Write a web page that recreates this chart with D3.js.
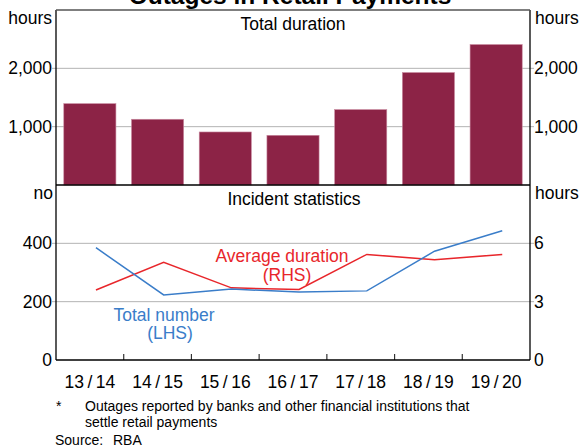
<!DOCTYPE html>
<html>
<head>
<meta charset="utf-8">
<script src="https://cdn.jsdelivr.net/npm/d3@7"></script>
<style>
  body { margin: 0; background: #fff; }
  text { font-family: Arial, "Liberation Sans", sans-serif; fill: #000; }
</style>
</head>
<body>
<div id="chart"></div>
<script>
// Data
const years = ["13/14", "14/15", "15/16", "16/17", "17/18", "18/19", "19/20"];
const totalDuration = [1395, 1127, 909, 852, 1293, 1928, 2408];   // hours
const totalNumber = [385, 223, 243, 233, 237, 373, 443];           // no (LHS)
const avgDuration = [3.60, 5.03, 3.71, 3.63, 5.43, 5.15, 5.43];    // hours (RHS)
const topTicks = [1000, 2000];
const lhsTicks = [0, 200, 400];
const rhsTicks = [0, 3, 6];

const width = 580, height = 448;
const plotLeft = 56, plotRight = 530, plotTop = 10, plotMid = 185, plotBottom = 360;
const barColor = "#8c2346", blue = "#3a7dc9", red = "#e8262b", grid = "#b4b4b4";
const fs = "17.5px";

const svg = d3.select("#chart").append("svg")
  .attr("width", width).attr("height", height);

// Scales
const x = d3.scaleBand().domain(years).range([plotLeft, plotRight]).paddingInner(0).paddingOuter(0);
const xBar = d3.scaleBand().domain(years).range([plotLeft, plotRight]).paddingInner(0.23).paddingOuter(0.115);
// lines sit a little right of the band centre, as in the original
const xLine = d => x(d) + x.bandwidth() * 0.59;
const yTop = d3.scaleLinear().domain([0, 3000]).range([plotMid, plotTop]);
const yL = d3.scaleLinear().domain([0, 600]).range([plotBottom, plotMid]);
const yR = d3.scaleLinear().domain([0, 9]).range([plotBottom, plotMid]);

// Gridlines (extend slightly outside the frame as ticks)
svg.append("g").selectAll("line").data(topTicks).join("line")
  .attr("x1", plotLeft - 4).attr("x2", plotRight + 4)
  .attr("y1", d => yTop(d)).attr("y2", d => yTop(d))
  .attr("stroke", grid).attr("stroke-width", 1);
svg.append("g").selectAll("line").data(lhsTicks.filter(d => d > 0)).join("line")
  .attr("x1", plotLeft - 4).attr("x2", plotRight + 4)
  .attr("y1", d => yL(d)).attr("y2", d => yL(d))
  .attr("stroke", grid).attr("stroke-width", 1);

// Bars
svg.append("g").selectAll("rect").data(totalDuration).join("rect")
  .attr("x", (d, i) => xBar(years[i]))
  .attr("width", xBar.bandwidth())
  .attr("y", d => yTop(d))
  .attr("height", d => plotMid - yTop(d))
  .attr("fill", barColor)
  .attr("stroke", "#c98aa0").attr("stroke-width", 0.6);

// Lines
const lineL = d3.line().x((d, i) => xLine(years[i])).y(d => yL(d));
const lineR = d3.line().x((d, i) => xLine(years[i])).y(d => yR(d));
svg.append("path").datum(avgDuration).attr("d", lineR)
  .attr("fill", "none").attr("stroke", red).attr("stroke-width", 1.5);
svg.append("path").datum(totalNumber).attr("d", lineL)
  .attr("fill", "none").attr("stroke", blue).attr("stroke-width", 1.5);

// X ticks at category boundaries (inside)
svg.append("g").selectAll("line").data(years.slice(1)).join("line")
  .attr("x1", d => x(d)).attr("x2", d => x(d))
  .attr("y1", plotBottom).attr("y2", plotBottom - 6)
  .attr("stroke", "#333").attr("stroke-width", 1.2);

// Frame
const frame = svg.append("g").attr("stroke", "#000").attr("stroke-width", 1.3);
frame.append("line").attr("x1", plotLeft).attr("x2", plotLeft).attr("y1", plotTop).attr("y2", plotBottom);
frame.append("line").attr("x1", plotRight).attr("x2", plotRight).attr("y1", plotTop).attr("y2", plotBottom);
frame.append("line").attr("x1", plotLeft).attr("x2", plotRight).attr("y1", plotTop).attr("y2", plotTop).attr("stroke", "#555");
frame.append("line").attr("x1", plotLeft).attr("x2", plotRight).attr("y1", plotMid).attr("y2", plotMid);
frame.append("line").attr("x1", plotLeft).attr("x2", plotRight).attr("y1", plotBottom).attr("y2", plotBottom);

// Axis labels
const fmt = d3.format(",");
svg.append("g").selectAll("text").data(topTicks).join("text")
  .attr("x", plotLeft - 4).attr("y", d => yTop(d)).attr("dy", "0.35em")
  .attr("text-anchor", "end").style("font-size", fs).text(fmt);
svg.append("g").selectAll("text").data(topTicks).join("text")
  .attr("x", plotRight + 4).attr("y", d => yTop(d)).attr("dy", "0.35em")
  .style("font-size", fs).text(fmt);
svg.append("g").selectAll("text").data(lhsTicks).join("text")
  .attr("x", plotLeft - 4).attr("y", d => yL(d)).attr("dy", "0.35em")
  .attr("text-anchor", "end").style("font-size", fs).text(d => d);
svg.append("g").selectAll("text").data(rhsTicks).join("text")
  .attr("x", plotRight + 4).attr("y", d => yR(d)).attr("dy", "0.35em")
  .style("font-size", fs).text(d => d);

// Units
svg.append("text").attr("x", plotLeft - 4).attr("y", 24).attr("text-anchor", "end").style("font-size", fs).text("hours");
svg.append("text").attr("x", plotRight + 5).attr("y", 24).style("font-size", fs).text("hours");
svg.append("text").attr("x", plotLeft - 3).attr("y", 199).attr("text-anchor", "end").style("font-size", fs).text("no");
svg.append("text").attr("x", plotRight + 5).attr("y", 199).style("font-size", fs).text("hours");

// X labels
svg.append("g").selectAll("text").data(years).join("text")
  .attr("x", d => x(d) + x.bandwidth() / 2).attr("y", 388)
  .attr("text-anchor", "middle").style("font-size", fs)
  .text(d => d.replace("/", "\u2009/\u2009"));

// Titles
svg.append("text").attr("x", 290).attr("y", 4).attr("text-anchor", "middle")
  .style("font-size", "24.5px").style("font-weight", "bold").text("Outages in Retail Payments");
svg.append("text").attr("x", 293).attr("y", 30).attr("text-anchor", "middle").style("font-size", fs).text("Total duration");
svg.append("text").attr("x", 294).attr("y", 205).attr("text-anchor", "middle").style("font-size", fs).text("Incident statistics");

// Series labels
svg.append("text").attr("x", 282).attr("y", 262).attr("text-anchor", "middle").style("font-size", fs).style("fill", red).text("Average duration");
svg.append("text").attr("x", 287).attr("y", 281).attr("text-anchor", "middle").style("font-size", fs).style("fill", red).text("(RHS)");
svg.append("text").attr("x", 164).attr("y", 321).attr("text-anchor", "middle").style("font-size", fs).style("fill", blue).text("Total number");
svg.append("text").attr("x", 170).attr("y", 339).attr("text-anchor", "middle").style("font-size", fs).style("fill", blue).text("(LHS)");

// Footnotes
const fn = "14px";
svg.append("text").attr("x", 56).attr("y", 411).style("font-size", fn).text("*");
svg.append("text").attr("x", 85).attr("y", 411).style("font-size", fn).text("Outages reported by banks and other financial institutions that");
svg.append("text").attr("x", 85).attr("y", 427).style("font-size", fn).text("settle retail payments");
svg.append("text").attr("x", 55).attr("y", 445).style("font-size", fn).text("Source:");
svg.append("text").attr("x", 113).attr("y", 445).style("font-size", fn).text("RBA");
</script>
</body>
</html>
